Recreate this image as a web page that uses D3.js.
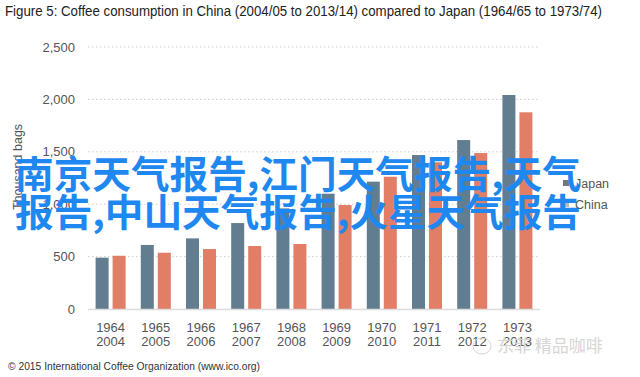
<!DOCTYPE html>
<html><head><meta charset="utf-8">
<script src="https://cdn.jsdelivr.net/npm/d3@7"></script>
<style>
html,body{margin:0;padding:0;background:#fff;}
svg{display:block;}
</style>
</head><body>
<svg id="chart" width="640" height="377"></svg>
<script>
const years1 = ["1964","1965","1966","1967","1968","1969","1970","1971","1972","1973"];
const years2 = ["2004","2005","2006","2007","2008","2009","2010","2011","2012","2013"];
const seriesNames = ["Japan","China"];
const japan = [490, 611, 674, 820, 960, 1100, 1215, 1469, 1612, 2042];
const china = [508, 537, 572, 601, 620, 992, 1262, 1400, 1488, 1877];
const yTicks = [0, 500, 1000, 1500, 2000, 2500];
const titleText = "Figure 5: Coffee consumption in China (2004/05 to 2013/14) compared to Japan (1964/65 to 1973/74)";
const yTitle = "Thousand bags";
const footerText = "\u00A9 2015 International Coffee Organization (www.ico.org)";
const overlayLines = ["南京天气报告,江门天气报告,天气", "报告,中山天气报告,火星天气报告"];
const watermark = "东菲 精品咖啡";
const colors = {Japan:"#627d90", China:"#e27d66"};

const svg = d3.select("#chart");
const pLeft = 88, pRight = 540, pTop = 47, pBottom = 309;

const x0 = d3.scaleBand().domain(years1).range([pLeft, pRight]).paddingInner(0).paddingOuter(0);
const x1 = d3.scaleBand().domain(seriesNames).range([0, x0.bandwidth()]).paddingInner(0.235).paddingOuter(0.447);
const y = d3.scaleLinear().domain([0, 2500]).range([pBottom, pTop]);

// title
svg.append("text").attr("x", 5).attr("y", 16)
  .attr("font-family", "'Liberation Sans Narrow','Arial Narrow','Liberation Sans',sans-serif")
  .attr("font-size", 14.5).attr("fill", "#222")
  .attr("textLength", 597).attr("lengthAdjust", "spacingAndGlyphs")
  .text(titleText);

// grid
const grid = svg.append("g");
grid.selectAll("line").data(yTicks.filter(d => d > 0)).join("line")
  .attr("x1", pLeft).attr("x2", pRight)
  .attr("y1", d => y(d)).attr("y2", d => y(d))
  .attr("stroke", "#cfcfcf").attr("stroke-width", 1).attr("stroke-dasharray", "1.5,2.5");

// y axis labels via d3 axis
const yAxis = svg.append("g").attr("transform", `translate(${pLeft},0)`)
  .call(d3.axisLeft(y).tickValues(yTicks).tickFormat(d3.format(",")).tickSize(0).tickPadding(13));
yAxis.select(".domain").remove();
yAxis.selectAll("text").attr("font-family", "'Liberation Sans',Arial,sans-serif").attr("font-size", 13).attr("fill", "#555");

// y title
svg.append("text").attr("transform", "translate(22,167) rotate(-90)")
  .attr("text-anchor", "middle")
  .attr("font-family", "'Liberation Sans',Arial,sans-serif").attr("font-size", 12.5).attr("fill", "#555")
  .text(yTitle);

// bars
const data = years1.map((yr, i) => ({yr, vals: [{k:"Japan", v: japan[i]}, {k:"China", v: china[i]}]}));
const groups = svg.append("g").selectAll("g").data(data).join("g")
  .attr("transform", d => `translate(${x0(d.yr)},0)`);
groups.selectAll("rect").data(d => d.vals).join("rect")
  .attr("x", d => x1(d.k)).attr("width", x1.bandwidth())
  .attr("y", d => y(d.v)).attr("height", d => y(0) - y(d.v))
  .attr("fill", d => colors[d.k]);

// baseline
svg.append("line").attr("x1", pLeft).attr("x2", pRight).attr("y1", y(0)+0.5).attr("y2", y(0)+0.5)
  .attr("stroke", "#dcdcdc").attr("stroke-width", 1.5);

// x labels
const xl = svg.append("g");
years1.forEach((yr, i) => {
  const cx = x0(yr) + x0.bandwidth()/2;
  const t = xl.append("text").attr("text-anchor", "middle")
    .attr("font-family", "'Liberation Sans',Arial,sans-serif").attr("font-size", 13).attr("fill", "#555");
  t.append("tspan").attr("x", cx).attr("y", 332).text(yr);
  t.append("tspan").attr("x", cx).attr("y", 345.5).text(years2[i]);
});

// legend
const lg = svg.append("g");
seriesNames.forEach((s, i) => {
  const ly = 183 + i * 21;
  lg.append("rect").attr("x", 563).attr("y", ly - 3).attr("width", 6).attr("height", 6).attr("fill", s === "Japan" ? "#777" : "#bbb");
  lg.append("text").attr("x", 575).attr("y", ly + 4.5)
    .attr("font-family", "'Liberation Sans',Arial,sans-serif").attr("font-size", 12.5).attr("fill", "#555").text(s);
});

// watermark
svg.append("text").attr("x", 497).attr("y", 352)
  .attr("font-family", "'Noto Sans CJK SC',sans-serif").attr("font-size", 17).attr("fill", "#d6d6d6")
  .text(watermark);
svg.append("ellipse").attr("cx", 482).attr("cy", 346).attr("rx", 9).attr("ry", 8)
  .attr("fill", "none").attr("stroke", "#d6d6d6").attr("stroke-width", 1);

// footer
svg.append("text").attr("x", 8).attr("y", 370)
  .attr("font-family", "'Liberation Sans',Arial,sans-serif").attr("font-size", 11).attr("fill", "#333")
  .attr("textLength", 252).attr("lengthAdjust", "spacingAndGlyphs")
  .text(footerText);

// overlay text
overlayLines.forEach((ln, i) => {
  svg.append("text").attr("x", 15).attr("y", 188 + i * 38)
    .attr("font-family", "'Noto Sans CJK SC',sans-serif").attr("font-weight", "bold")
    .attr("font-size", 38).attr("fill", "#1e88f0")
    .attr("textLength", 566).attr("lengthAdjust", "spacingAndGlyphs")
    .text(ln);
});
</script>
</body></html>
